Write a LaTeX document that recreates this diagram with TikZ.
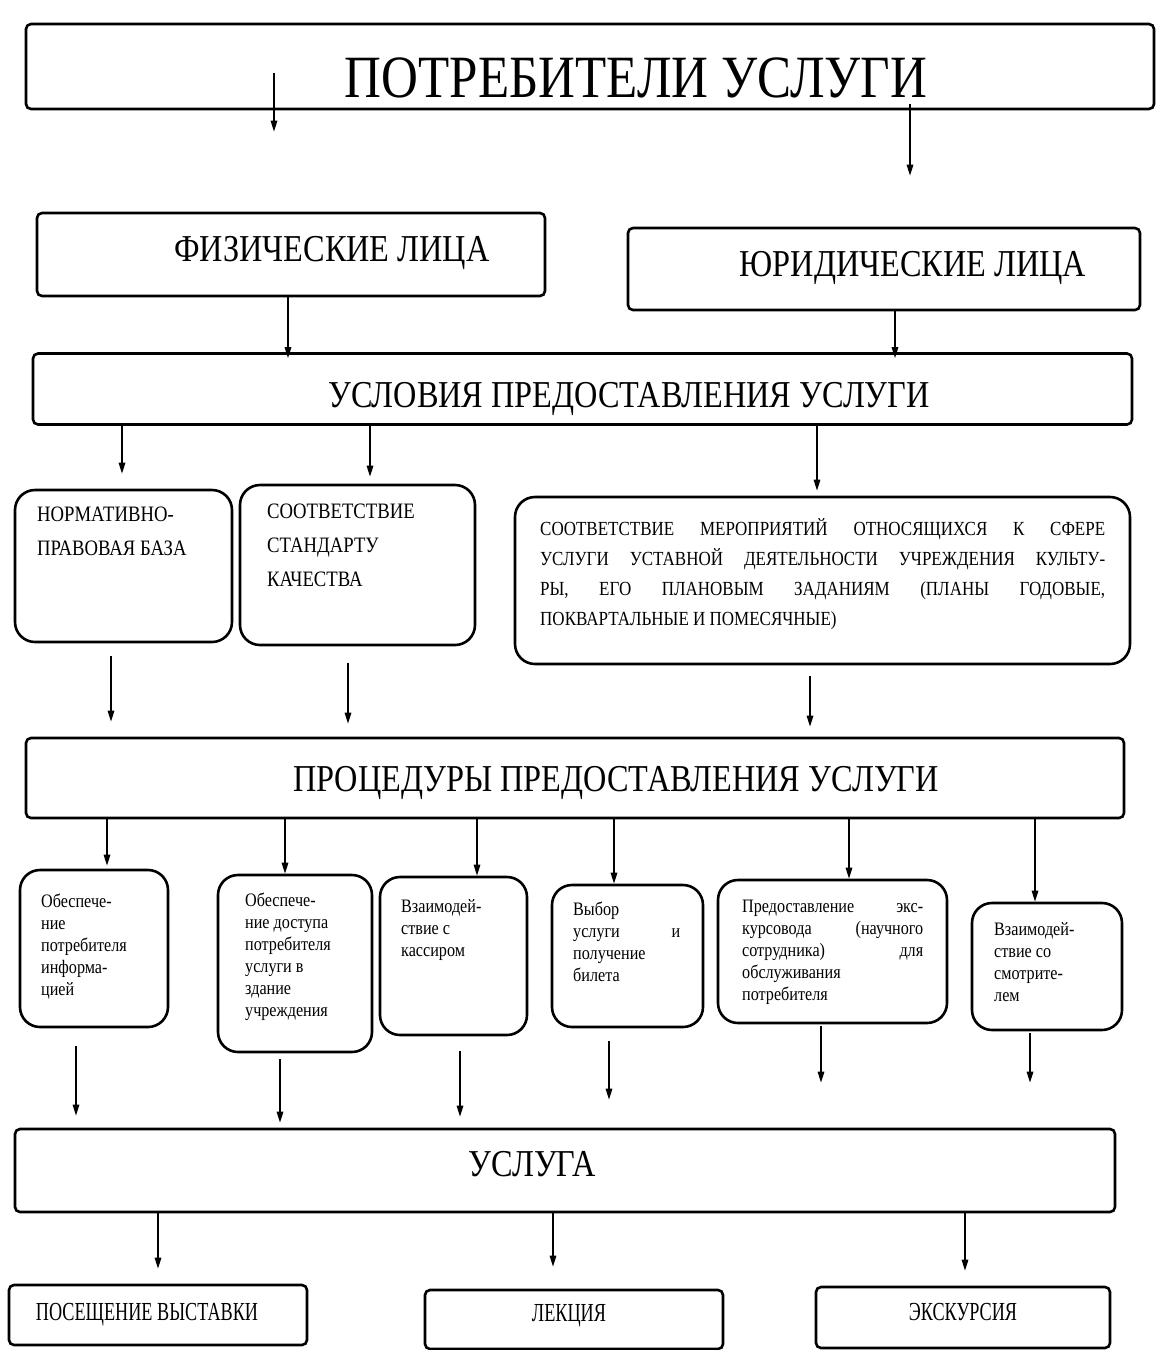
\documentclass[tikz,border=0pt]{standalone}
\usepackage{fontspec}
\setmainfont[FakeStretch=0.85]{Liberation Serif}
\newfontfamily\narrowfont[FakeStretch=0.7]{Liberation Serif}
\usetikzlibrary{arrows.meta}
\begin{document}
\begin{tikzpicture}[x=1pt,y=-1pt,
  box/.style={draw, line width=2.6pt, rounded corners=5pt, inner sep=0pt},
  rbox/.style={draw, line width=2.6pt, rounded corners=20pt, inner sep=0pt},
  arr/.style={line width=1.5pt, -{Triangle[length=11pt,width=6.5pt]}},
  txt/.style={inner sep=0pt, align=left, anchor=north west},
  head/.style={inner sep=0pt, anchor=base, font=\fontsize{38}{40}\selectfont},
  midtxt/.style={txt, font=\fontsize{22}{34}\selectfont},
  smalltxt/.style={txt, font=\fontsize{19}{22}\selectfont},
  endtxt/.style={inner sep=0pt, anchor=base, font=\narrowfont\fontsize{26}{28}\selectfont},
]
\useasboundingbox (0,0) rectangle (1160,1350);

% ---- boxes ----
\node[box, minimum width=1128pt, minimum height=85pt] (top) at (590,66.5) {};
\node[inner sep=0pt, anchor=base, font=\fontsize{60}{62}\selectfont] (toptxt) at (636,97) {ПОТРЕБИТЕЛИ УСЛУГИ};

\node[box, minimum width=508pt, minimum height=83pt] (phys) at (291,254.5) {};
\node[head] (physt) at (332,261) {ФИЗИЧЕСКИЕ ЛИЦА};
\node[box, minimum width=512pt, minimum height=82pt] (jur) at (884,269) {};
\node[head] (jurt) at (913,276) {ЮРИДИЧЕСКИЕ ЛИЦА};

\node[box, minimum width=1099pt, minimum height=71pt] (usl) at (582.5,389) {};
\node[head] (uslt) at (629,407) {УСЛОВИЯ ПРЕДОСТАВЛЕНИЯ УСЛУГИ};

\node[rbox, minimum width=217pt, minimum height=152pt] (norm) at (123.5,566) {};
\node[midtxt] (normt) at (37,507) {НОРМАТИВНО-\\ПРАВОВАЯ БАЗА};
\node[rbox, minimum width=235pt, minimum height=160pt] (sootv) at (357.5,565) {};
\node[midtxt] (sootvt) at (267,504) {СООТВЕТСТВИЕ\\СТАНДАРТУ\\КАЧЕСТВА};
\node[rbox, minimum width=615pt, minimum height=167pt] (big) at (822.5,580.5) {};
\node[txt, font=\fontsize{20}{30}\selectfont] (bigt) at (540,518) {%
\makebox[565pt][s]{СООТВЕТСТВИЕ МЕРОПРИЯТИЙ ОТНОСЯЩИХСЯ К СФЕРЕ}\\
\makebox[565pt][s]{УСЛУГИ УСТАВНОЙ ДЕЯТЕЛЬНОСТИ УЧРЕЖДЕНИЯ КУЛЬТУ-}\\
\makebox[565pt][s]{РЫ, ЕГО ПЛАНОВЫМ ЗАДАНИЯМ (ПЛАНЫ ГОДОВЫЕ,}\\
ПОКВАРТАЛЬНЫЕ И ПОМЕСЯЧНЫЕ)};

\node[box, minimum width=1098pt, minimum height=80pt] (proc) at (575,778) {};
\node[head] (proct) at (616,791) {ПРОЦЕДУРЫ ПРЕДОСТАВЛЕНИЯ УСЛУГИ};

\node[rbox, minimum width=148pt, minimum height=157pt] (b1) at (94,948.5) {};
\node[smalltxt] (b1t) at (41,894) {Обеспече-\\ние\\потребителя\\информа-\\цией};
\node[rbox, minimum width=154pt, minimum height=177pt] (b2) at (295,963.5) {};
\node[smalltxt] (b2t) at (245,893) {Обеспече-\\ние доступа\\потребителя\\услуги в\\здание\\учреждения};
\node[rbox, minimum width=147pt, minimum height=158pt] (b3) at (453.5,956) {};
\node[smalltxt] (b3t) at (401,899) {Взаимодей-\\ствие с\\кассиром};
\node[rbox, minimum width=151pt, minimum height=142pt] (b4) at (627.5,956) {};
\node[smalltxt] (b4t) at (573,902) {Выбор\\\makebox[107pt][s]{услуги и}\\получение\\билета};
\node[rbox, minimum width=229pt, minimum height=143pt] (b5) at (832.5,951.5) {};
\node[smalltxt] (b5t) at (742,900) {%
\makebox[181pt][s]{Предоставление экс-}\\
\makebox[181pt][s]{курсовода (научного}\\
\makebox[181pt][s]{сотрудника) для}\\
обслуживания\\потребителя};
\node[rbox, minimum width=150pt, minimum height=127pt] (b6) at (1047,966.5) {};
\node[smalltxt] (b6t) at (994,922) {Взаимодей-\\ствие со\\смотрите-\\лем};

\node[box, minimum width=1100pt, minimum height=83pt] (uslg) at (565,1170.5) {};
\node[head] (uslgt) at (532,1176) {УСЛУГА};

\node[box, minimum width=298pt, minimum height=60pt] (p1) at (158,1315) {};
\node[endtxt] (p1t) at (147,1320) {ПОСЕЩЕНИЕ ВЫСТАВКИ};
\node[box, minimum width=298pt, minimum height=59pt] (p2) at (574,1319.5) {};
\node[endtxt] (p2t) at (569,1321) {ЛЕКЦИЯ};
\node[box, minimum width=294pt, minimum height=61pt] (p3) at (963,1317.5) {};
\node[endtxt] (p3t) at (963,1320) {ЭКСКУРСИЯ};

% ---- arrow x positions ----
\foreach \n/\xx in {a1/274,a2/910,a3/288,a4/895,a5/122,a6/370,a7/817,a8/111,a9/348,a10/810,
  a11/107,a12/285,a13/477,a14/614,a15/849,a16/1035,
  a17/76,a18/280,a19/460,a20/609,a21/821,a22/1030,
  a23/158,a24/553,a25/965}
  {\coordinate (\n) at (\xx,0);}

% ---- arrows ----
\draw[arr, shorten <=-37pt, shorten >=80pt] (top.south -| a1) -- (phys.north -| a1);
\draw[arr, shorten <=-6pt, shorten >=51pt] (top.south -| a2) -- (jur.north -| a2);
\draw[arr, shorten >=-6pt] (phys.south -| a3) -- (usl.north -| a3);
\draw[arr, shorten >=-6pt] (jur.south -| a4) -- (usl.north -| a4);

\draw[arr, shorten >=15pt] (usl.south -| a5) -- (norm.north -| a5);
\draw[arr, shorten >=7pt] (usl.south -| a6) -- (sootv.north -| a6);
\draw[arr, shorten >=5pt] (usl.south -| a7) -- (big.north -| a7);

\draw[arr, shorten <=13pt, shorten >=15pt] (norm.south -| a8) -- (proc.north -| a8);
\draw[arr, shorten <=17pt, shorten >=13pt] (sootv.south -| a9) -- (proc.north -| a9);
\draw[arr, shorten <=11pt, shorten >=10pt] (big.south -| a10) -- (proc.north -| a10);

\draw[arr, shorten >=3pt] (proc.south -| a11) -- (b1.north -| a11);
\draw[arr] (proc.south -| a12) -- (b2.north -| a12);
\draw[arr] (proc.south -| a13) -- (b3.north -| a13);
\draw[arr] (proc.south -| a14) -- (b4.north -| a14);
\draw[arr] (proc.south -| a15) -- (b5.north -| a15);
\draw[arr] (proc.south -| a16) -- (b6.north -| a16);

\draw[arr, shorten <=18pt, shorten >=12pt] (b1.south -| a17) -- (uslg.north -| a17);
\draw[arr, shorten <=6pt, shorten >=5pt] (b2.south -| a18) -- (uslg.north -| a18);
\draw[arr, shorten <=15pt, shorten >=11pt] (b3.south -| a19) -- (uslg.north -| a19);
\draw[arr, shorten <=13pt, shorten >=28pt] (b4.south -| a20) -- (uslg.north -| a20);
\draw[arr, shorten <=2pt, shorten >=45pt] (b5.south -| a21) -- (uslg.north -| a21);
\draw[arr, shorten <=2pt, shorten >=45pt] (b6.south -| a22) -- (uslg.north -| a22);

\draw[arr, shorten >=15pt] (uslg.south -| a23) -- (p1.north -| a23);
\draw[arr, shorten >=22pt] (uslg.south -| a24) -- (p2.north -| a24);
\draw[arr, shorten >=15pt] (uslg.south -| a25) -- (p3.north -| a25);
\end{tikzpicture}
\end{document}
